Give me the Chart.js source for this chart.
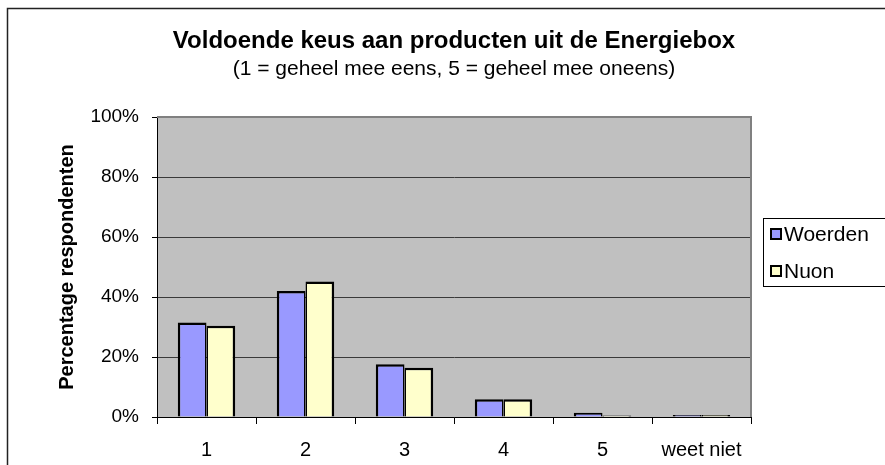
<html lang="nl">
<head>
<meta charset="utf-8">
<script src="https://cdn.jsdelivr.net/npm/chart.js@4.4.1/dist/chart.umd.min.js"></script>
<title>Voldoende keus aan producten uit de Energiebox</title>
<style>
    body { margin : 0 ; background : white ; }
    #wrap { width : 885px ; height : 465px ; }
</style>
</head>
<body>
<div id="wrap"><canvas id="keus_chart" width="885" height="465"></canvas></div>
<script>
    // waarden (percentage respondenten)
    const categories = ['1', '2', '3', '4', '5', 'weet niet'];
    const woerden = [31.5, 42.0, 17.6, 5.9, 1.4, 0.7];
    const nuon = [30.4, 45.2, 16.4, 5.9, 0.5, 0.7];
    const yTicks = [0, 20, 40, 60, 80, 100];

    Chart.defaults.font.family = 'Arial, "Liberation Sans", sans-serif';
    Chart.defaults.color = '#000';

    // grijs plotvlak + rand om de hele grafiek
    const background = {
        id: 'background',
        beforeDraw(chart) {
            const c = chart.ctx, a = chart.chartArea;
            c.save();
            c.fillStyle = '#C0C0C0';
            c.fillRect(a.left, a.top, a.right - a.left, a.bottom - a.top);
            c.strokeStyle = '#222';
            c.lineWidth = 1.5;
            c.strokeRect(7.5, 8.5, 900, 500);
            c.restore();
        },
        beforeDatasetsDraw(chart) {
            const c = chart.ctx, a = chart.chartArea;
            c.save();
            c.strokeStyle = '#808080';
            c.lineWidth = 2;
            c.beginPath();
            c.moveTo(a.left, a.top);
            c.lineTo(a.right, a.top);
            c.lineTo(a.right, a.bottom);
            c.stroke();
            c.restore();
        }
    };

    // legenda met kader rechts
    const boxLegend = {
        id: 'boxLegend',
        afterDraw(chart) {
            const c = chart.ctx;
            c.save();
            c.strokeStyle = '#000';
            c.lineWidth = 1;
            c.fillStyle = 'white';
            c.fillRect(763, 218, 130, 68);
            c.strokeRect(763.5, 218.5, 130, 68);
            c.font = '21px Arial, "Liberation Sans", sans-serif';
            c.textBaseline = 'middle';
            chart.data.datasets.forEach((ds, i) => {
                const y = 234 + i * 37;
                c.fillStyle = ds.backgroundColor;
                c.fillRect(771, y - 5, 10, 10);
                c.lineWidth = 2;
                c.strokeRect(771, y - 5, 10, 10);
                c.fillStyle = '#000';
                c.fillText(ds.label, 784, y + 1);
            });
            c.restore();
        }
    };

    new Chart('keus_chart', {
        type: 'bar',
        data: {
            labels: categories,
            datasets: [{
                label: 'Woerden',
                data: woerden,
                backgroundColor: '#9999FF',
                borderColor: '#000',
                borderWidth: {top: 2.5, left: 2.5, right: 1.5, bottom: 0},
                borderSkipped: false
            }, {
                label: 'Nuon',
                data: nuon,
                backgroundColor: '#FFFFCC',
                borderColor: '#000',
                borderWidth: {top: 2.5, left: 1.5, right: 2.5, bottom: 0},
                borderSkipped: false
            }]
        },
        options: {
            responsive: false,
            animation: false,
            categoryPercentage: 0.58,
            barPercentage: 1.0,
            layout: { padding: {left: 46, top: 16, right: 134, bottom: 0} },
            plugins: {
                legend: { display: false },
                tooltip: { enabled: false },
                title: {
                    display: true,
                    fullSize: false,
                    text: 'Voldoende keus aan producten uit de Energiebox',
                    font: { size: 24, weight: 'bold' },
                    padding: {top: 11, bottom: 0}
                },
                subtitle: {
                    display: true,
                    fullSize: false,
                    text: '(1 = geheel mee eens, 5 = geheel mee oneens)',
                    font: { size: 21 },
                    color: '#000',
                    padding: {top: 1, bottom: 35}
                }
            },
            scales: {
                x: {
                    afterFit: s => { s.height = 48; },
                    grid: { offset: true, drawOnChartArea: false, tickLength: 7, tickColor: '#000' },
                    border: { color: '#000', width: 1 },
                    ticks: { font: { size: 20 }, padding: 14, maxRotation: 0 }
                },
                y: {
                    min: 0,
                    max: 100,
                    afterFit: s => { s.width = 111; },
                    afterBuildTicks: s => { s.ticks = yTicks.map(v => ({value: v})); },
                    grid: { color: '#3a3a3a', tickLength: 5, tickColor: '#000' },
                    border: { color: '#000', width: 1 },
                    ticks: { font: { size: 19 }, padding: 13, callback: v => v + '%' },
                    title: {
                        display: true,
                        text: 'Percentage respondenten',
                        font: { size: 20, weight: 'bold' },
                        padding: {top: 9, bottom: 0}
                    }
                }
            }
        },
        plugins: [background, boxLegend]
    });
</script>
</body>
</html>
